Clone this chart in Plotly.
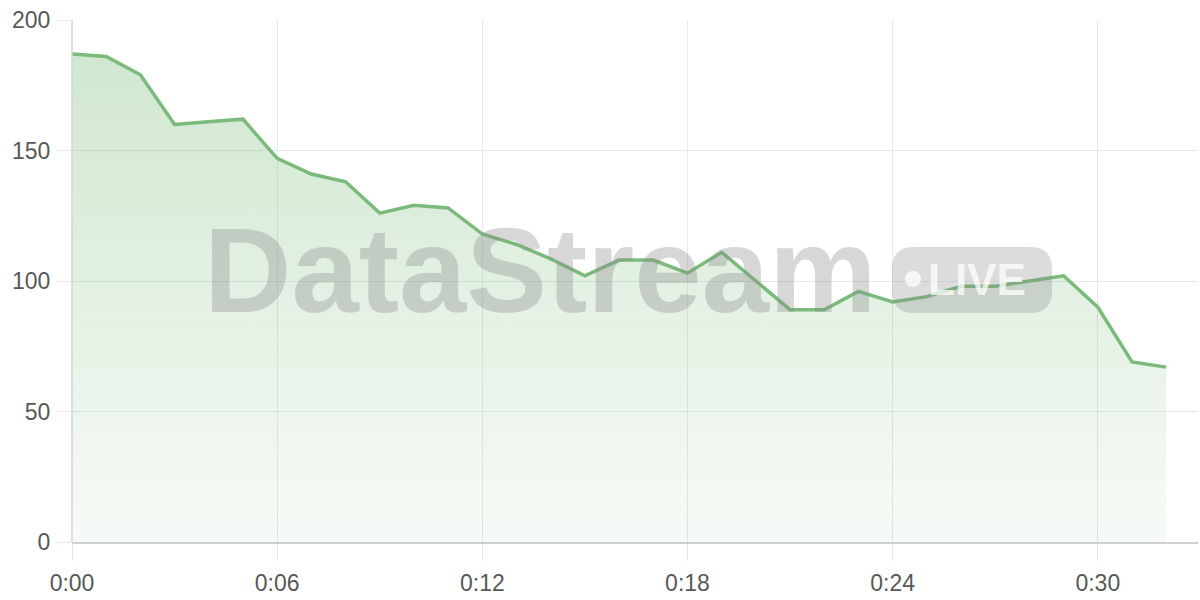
import plotly.graph_objects as go

minutes = list(range(33))
values = [187, 186, 179, 160, 161, 162, 147, 141, 138, 126, 129, 128, 118, 114, 108.5, 102,
          108, 108, 103, 111, 100, 89, 89, 96, 92, 94, 98, 98, 100, 102, 90, 69, 67]
tick_vals = [0, 6, 12, 18, 24, 30]
tick_text = ["0:00", "0:06", "0:12", "0:18", "0:24", "0:30"]
y_ticks = [0, 50, 100, 150, 200]

LINE = "rgb(122,186,122)"

fig = go.Figure()
fig.add_trace(go.Scatter(
    x=minutes, y=values, mode="lines",
    line=dict(color=LINE, width=3.5),
    fill="tozeroy",
    fillgradient=dict(type="vertical",
                      colorscale=[[0, "rgba(122,186,122,0.06)"], [1, "rgba(122,186,122,0.35)"]]),
    hoverinfo="skip", showlegend=False,
))

W, H = 1200, 600
L, R, T, B = 72, 2, 20, 58
pw, ph = W - L - R, H - T - B

def px(x):
    return (x - L) / pw

def py(y):
    return (H - B - y) / ph

# rounded badge path (paper coords)
x0, x1, y0, y1, r = 892, 1052, 247, 313, 22
def pt(x, y):
    return f"{px(x):.5f},{py(y):.5f}"
path = (f"M {pt(x0 + r, y0)} L {pt(x1 - r, y0)} Q {pt(x1, y0)} {pt(x1, y0 + r)} "
        f"L {pt(x1, y1 - r)} Q {pt(x1, y1)} {pt(x1 - r, y1)} L {pt(x0 + r, y1)} "
        f"Q {pt(x0, y1)} {pt(x0, y1 - r)} L {pt(x0, y0 + r)} Q {pt(x0, y0)} {pt(x0 + r, y0)} Z")

FONT = "Liberation Sans, Arial, sans-serif"

fig.update_layout(
    width=W, height=H,
    margin=dict(l=L, r=R, t=T, b=B),
    paper_bgcolor="white", plot_bgcolor="white",
    font=dict(family=FONT, size=23, color="#585858"),
    xaxis=dict(range=[0, 32.93], tickvals=tick_vals, ticktext=tick_text,
               automargin=False,
               showgrid=True, gridcolor="#e8e8e8", gridwidth=1,
               showline=True, linecolor="#d0d0d0", linewidth=2,
               ticks="outside", ticklen=17, tickcolor="#e6e6e6", tickwidth=1,
               ticklabelstandoff=2,
               zeroline=False, fixedrange=True),
    yaxis=dict(range=[0, 200], tickvals=y_ticks,
               automargin=False,
               showgrid=True, gridcolor="#e8e8e8", gridwidth=1,
               showline=False, ticks="outside", ticklen=14, tickcolor="#e8e8e8",
               ticklabelstandoff=2,
               zeroline=False, fixedrange=True),
    shapes=[
        dict(type="line", xref="paper", yref="paper", x0=0, x1=0, y0=0, y1=1,
             line=dict(color="#d4d4d4", width=1.5), layer="above"),
        dict(type="path", xref="paper", yref="paper", path=path,
             fillcolor="rgba(140,140,140,0.30)", line=dict(width=0), layer="above"),
        dict(type="circle", xref="paper", yref="paper",
             x0=px(905), x1=px(921), y0=py(287), y1=py(271),
             fillcolor="rgba(255,255,255,0.75)", line=dict(width=0), layer="above"),
    ],
    annotations=[
        dict(text="<b>DataStream</b>", xref="paper", yref="paper",
             x=px(540), y=py(270), xanchor="center", yanchor="middle", showarrow=False,
             font=dict(family=FONT, size=121, color="rgba(140,140,140,0.35)")),
        dict(text="<b>LIVE</b>", xref="paper", yref="paper",
             x=px(977), y=py(279), xanchor="center", yanchor="middle", showarrow=False,
             font=dict(family=FONT, size=44, color="rgba(255,255,255,0.75)")),
    ],
)

fig.write_html("out.html", config={"displayModeBar": False},
               post_script="document.body.style.margin='0px';")
